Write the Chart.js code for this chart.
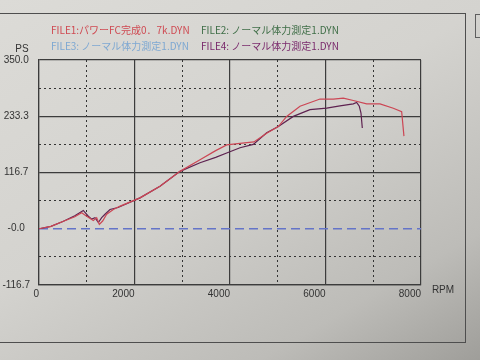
<!DOCTYPE html>
<html>
<head>
<meta charset="utf-8">
<script src="https://cdn.jsdelivr.net/npm/chart.js@4/dist/chart.umd.min.js"></script>
<style>
  html, body { margin: 0; padding: 0; }
  body {
    width: 480px; height: 360px; overflow: hidden; position: relative;
    background: linear-gradient(150deg, #dcdbd7 0%, #d4d3cf 45%, #bdbcb8 80%, #9f9e9a 100%);
  }
  #paper { position: absolute; left: -4px; top: 13px; width: 468px; height: 328px; border: 1.5px solid #4e4e4e; }
  #tab { position: absolute; left: 475px; top: 14px; width: 12px; height: 22px; border: 1.5px solid #5e5e5e; }
  #dyno { position: absolute; left: 0; top: 0; }
</style>
</head>
<body>
<div id="paper"></div>
<div id="tab"></div>
<canvas id="dyno" width="480" height="360"></canvas>
<script>
const xMin = 0, xMax = 8000;
const yMin = -116.7, yMax = 350;
const xTickValues = [0, 2000, 4000, 6000, 8000];
const xMinorTicks = [1000, 3000, 5000, 7000];
const yTickValues = [-116.7, 0, 116.7, 233.3, 350];
const yTickLabels = ['-116.7', '-0.0', '116.7', '233.3', '350.0'];
const yMinorTicks = [-58.3, 58.3, 175, 291.7];

const fileLabels = [
    'FILE1:パワーFC完成0．7k.DYN',
    'FILE2: ノーマル体力測定1.DYN',
    'FILE3: ノーマル体力測定1.DYN',
    'FILE4: ノーマル体力測定1.DYN'
];
const fileColors = ['#cf4a52', '#3f6e47', '#7ea8d2', '#7a2a6c'];

// FILE1 (red)
const file1Rpm = [0, 250, 500, 750, 894, 998, 1138, 1208, 1263, 1333, 1417, 1557, 1700, 2115, 2534, 2953, 3372, 3700, 3931, 4210, 4500, 4768, 5012, 5187, 5466, 5885, 6164, 6373, 6582, 6862, 7141, 7420, 7595, 7643];
const file1Ps = [0, 5, 15, 25, 33, 26, 17, 23, 9, 16, 30, 40, 47, 64, 88, 119, 143, 162, 174, 177, 180, 198, 212, 233, 254, 269, 269, 271, 266, 259, 259, 250, 243, 192];

// FILE4 (purple)
const file4Rpm = [0, 250, 500, 750, 928, 1033, 1103, 1173, 1243, 1313, 1382, 1487, 1655, 2115, 2534, 2953, 3372, 3700, 3931, 4210, 4488, 4768, 5012, 5326, 5675, 6024, 6303, 6582, 6652, 6708, 6743, 6771];
const file4Ps = [0, 5, 15, 27, 38, 26, 20, 23, 13, 23, 30, 40, 44, 64, 88, 119, 137, 148, 157, 168, 175, 199, 212, 233, 247, 250, 255, 259, 262, 254, 240, 209];

// FILE3 (blue dashed, flat)
const file3Rpm = [0, 8000];
const file3Ps = [0, 0];

function toPoints(rpm, ps) {
    return rpm.map((r, i) => ({ x: r, y: ps[i] }));
}

function fixedTicks(values) {
    return scale => { scale.ticks = values.map(v => ({ value: v })); };
}

const lineColor = '#3c3c3c';
const tickFont = { family: '"Liberation Sans", Arial, sans-serif', size: 10 };

// legend text, axis units
const paperText = {
    id: 'paperText',
    afterDraw(chart) {
        const ctx = chart.ctx;
        const a = chart.chartArea;
        ctx.save();
        ctx.textBaseline = 'middle';
        ctx.textAlign = 'left';
        ctx.font = '10px "Noto Sans CJK JP", sans-serif';
        fileLabels.forEach((t, i) => {
            ctx.fillStyle = fileColors[i];
            ctx.fillText(t, a.left + 12 + (i % 2) * 150, 30 + Math.floor(i / 2) * 16);
        });
        ctx.fillStyle = '#333';
        ctx.font = '10px "Liberation Sans", Arial, sans-serif';
        ctx.textAlign = 'center';
        ctx.fillText('PS', 22, a.top - 11);
        ctx.fillText('RPM', a.right + 22, a.bottom + 5);
        ctx.restore();
    }
};

new Chart(document.getElementById('dyno'), {
    type: 'line',
    data: {
        datasets: [
            { label: fileLabels[0], data: toPoints(file1Rpm, file1Ps), borderColor: '#cc4654', borderWidth: 1.2 },
            { label: fileLabels[3], data: toPoints(file4Rpm, file4Ps), borderColor: '#5e2250', borderWidth: 1.2 },
            { label: fileLabels[2], data: toPoints(file3Rpm, file3Ps), borderColor: '#6474c8', borderWidth: 1.4, borderDash: [9, 5] }
        ]
    },
    options: {
        responsive: false,
        animation: false,
        elements: { point: { radius: 0 }, line: { tension: 0 } },
        layout: { padding: { top: 60, right: 59, bottom: 55, left: 0 } },
        plugins: { legend: { display: false }, tooltip: { enabled: false } },
        scales: {
            x: {
                type: 'linear', min: xMin, max: xMax,
                afterBuildTicks: fixedTicks(xTickValues),
                afterFit: s => { s.height = 20; },
                ticks: { align: 'end', padding: 3, color: '#333', font: tickFont, callback: v => String(v) },
                grid: { color: lineColor, lineWidth: 1.2, drawTicks: false },
                border: { color: lineColor, width: 1.2 }
            },
            xDots: {
                type: 'linear', position: 'bottom', min: xMin, max: xMax,
                afterBuildTicks: fixedTicks(xMinorTicks),
                afterFit: s => { s.height = 0; },
                ticks: { display: false },
                grid: { color: '#333', lineWidth: 1, drawTicks: false },
                border: { display: false, dash: [2, 3] }
            },
            y: {
                type: 'linear', min: yMin, max: yMax,
                afterBuildTicks: fixedTicks(yTickValues),
                afterFit: s => { s.width = 39; },
                ticks: { crossAlign: 'center', padding: 9, color: '#333', font: tickFont, callback: (v, i) => yTickLabels[i] },
                grid: { color: c => (c.tick && c.tick.value === 0 ? 'rgba(0,0,0,0)' : lineColor), lineWidth: 1.2, drawTicks: false },
                border: { color: lineColor, width: 1.2 }
            },
            yDots: {
                type: 'linear', position: 'left', min: yMin, max: yMax,
                afterBuildTicks: fixedTicks(yMinorTicks),
                afterFit: s => { s.width = 0; },
                ticks: { display: false },
                grid: { color: '#333', lineWidth: 1, drawTicks: false },
                border: { display: false, dash: [2, 3] }
            }
        }
    },
    plugins: [paperText]
});
</script>
</body>
</html>
